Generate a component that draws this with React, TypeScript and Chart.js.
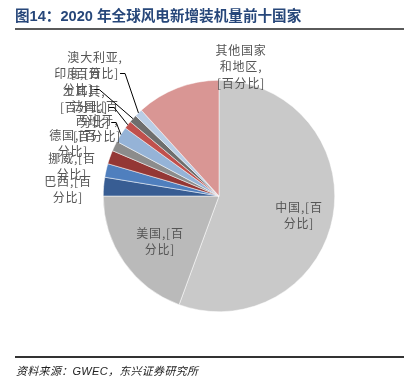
import React, { useEffect, useRef } from 'react';
import { Chart, registerables } from 'chart.js';

Chart.register(...registerables);

// ---- data ----
const categories = ['中国', '美国', '巴西', '挪威', '德国', '西班牙', '法国', '土耳其', '印度', '澳大利亚', '其他国家和地区'];
const shares = [55.6, 19.4, 2.6, 1.9, 1.9, 1.4, 2.2, 1.1, 1.1, 1.1, 11.7];
const placeholder = '[百分比]';
const titleText = '图14：2020 年全球风电新增装机量前十国家';
const sourceText = '资料来源：GWEC，东兴证券研究所';

// ---- styles ----
const colors = ['#c9c9c9', '#bababa', '#385d93', '#4f7fbe', '#943735', '#8c8c8c', '#95b3d7', '#c0504d', '#6e6e6e', '#b9cde5', '#d99694'];

type LabelLayout = { mode: 'a' | 'b' | 'c'; cx: number; y: number; leader?: boolean };
const labelLayout: LabelLayout[] = [
  { mode: 'a', cx: 299, y: 207 },
  { mode: 'a', cx: 160, y: 233 },
  { mode: 'a', cx: 68, y: 181 },
  { mode: 'a', cx: 72, y: 158 },
  { mode: 'a', cx: 73, y: 135 },
  { mode: 'b', cx: 97, y: 120 },
  { mode: 'a', cx: 95, y: 106, leader: true },
  { mode: 'b', cx: 84, y: 91, leader: true },
  { mode: 'a', cx: 78, y: 73, leader: true },
  { mode: 'b', cx: 95, y: 57, leader: true },
  { mode: 'c', cx: 241, y: 50 },
];

function labelLines(name: string, mode: string): string[] {
  if (mode === 'a') return [name + ',[百', '分比]'];
  if (mode === 'b') return [name + ',', placeholder];
  return [name.slice(0, 4), name.slice(4) + ',', placeholder];
}

const labelPlugin = {
  id: 'pieLabels',
  afterDatasetsDraw(chart: any) {
    const ctx = chart.ctx;
    const meta = chart.getDatasetMeta(0);
    ctx.save();
    ctx.font = '12px "Noto Sans CJK SC", sans-serif';
    try {
      (ctx as any).letterSpacing = '0.8px';
    } catch (e) {}
    ctx.fillStyle = '#555555';
    ctx.textAlign = 'center';
    ctx.textBaseline = 'middle';
    const lh = 16.5;
    categories.forEach((name, i) => {
      const lay = labelLayout[i];
      const lines = labelLines(name, lay.mode);
      lines.forEach((t, k) => ctx.fillText(t, lay.cx, lay.y + k * lh));
      if (lay.leader) {
        const arc = meta.data[i];
        const p = arc.getProps(['x', 'y', 'startAngle', 'endAngle', 'outerRadius'], true);
        const mid = (p.startAngle + p.endAngle) / 2;
        const ex = p.x + Math.cos(mid) * p.outerRadius;
        const ey = p.y + Math.sin(mid) * p.outerRadius;
        const last = lines[lines.length - 1];
        const w = ctx.measureText(last).width;
        const sx = lay.cx + w / 2 + 1;
        const sy = lay.y + (lines.length - 1) * lh;
        ctx.beginPath();
        ctx.strokeStyle = '#000000';
        ctx.lineWidth = 1;
        ctx.moveTo(sx, sy);
        ctx.lineTo(sx + 5, sy);
        ctx.lineTo(ex, ey);
        ctx.stroke();
      }
    });
    ctx.restore();
  },
};

export default function App() {
  const ref = useRef<HTMLCanvasElement | null>(null);
  useEffect(() => {
    if (!ref.current) return;
    const chart = new Chart(ref.current, {
      type: 'pie',
      data: {
        labels: categories,
        datasets: [
          {
            data: shares,
            backgroundColor: colors,
            borderColor: '#ffffff',
            borderWidth: 0.5,
          },
        ],
      },
      options: {
        responsive: false,
        animation: false,
        devicePixelRatio: 1,
        layout: { padding: { left: 103, right: 76, top: 80, bottom: 77 } },
        plugins: {
          legend: { display: false },
          tooltip: { enabled: false },
          title: { display: false },
        },
      },
      plugins: [labelPlugin],
    });
    return () => chart.destroy();
  }, []);

  return (
    <div style={{ position: 'fixed', left: 0, top: 0, width: 411, height: 389, background: '#fff', overflow: 'hidden' }}>
      <canvas ref={ref} width={411} height={389} style={{ position: 'absolute', left: 0, top: 0, width: 411, height: 389 }} />
      <div
        style={{
          position: 'absolute',
          left: 15,
          top: 6,
          fontFamily: '"Liberation Sans", "Noto Sans CJK SC", sans-serif',
          fontWeight: 'bold',
          fontSize: 14.6,
          lineHeight: '20px',
          color: '#27477a',
          whiteSpace: 'nowrap',
        }}
      >
        {titleText}
      </div>
      <div style={{ position: 'absolute', left: 15, top: 28, width: 389, height: 2, background: '#5a5a5a' }} />
      <div style={{ position: 'absolute', left: 15, top: 356, width: 389, height: 1.5, background: '#333' }} />
      <div
        style={{
          position: 'absolute',
          left: 16,
          top: 364,
          fontFamily: '"Liberation Sans", "Noto Sans CJK SC", sans-serif',
          fontStyle: 'italic',
          fontSize: 11,
          lineHeight: '15px',
          letterSpacing: 0.3,
          color: '#222',
          whiteSpace: 'nowrap',
        }}
      >
        {sourceText}
      </div>
    </div>
  );
}
